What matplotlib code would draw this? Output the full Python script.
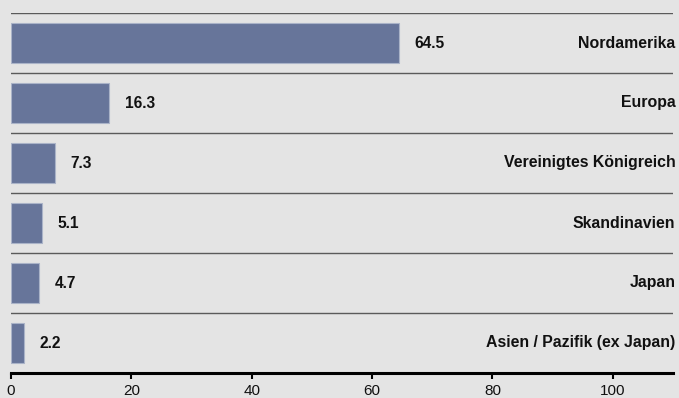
import matplotlib
matplotlib.use("Agg")
import matplotlib.pyplot as plt

categories = ["Nordamerika", "Europa", "Vereinigtes Königreich", "Skandinavien", "Japan", "Asien / Pazifik (ex Japan)"]
values = [64.5, 16.3, 7.3, 5.1, 4.7, 2.2]
xticks = [0, 20, 40, 60, 80, 100]

plt.rcParams['font.family'] = ['Liberation Sans', 'DejaVu Sans']
bg = '#e4e4e4'
fig = plt.figure(figsize=(6.79, 3.98), dpi=100, facecolor=bg)
ax = fig.add_axes([11/679, 25/398, 662/679, 360/398], facecolor=bg)

y = list(range(len(categories)))
ax.barh(y, values, height=0.67, color='#67759a', edgecolor='#aab3c8', linewidth=0.8, zorder=2)
ax.set_ylim(len(categories) - 0.5, -0.5)
ax.set_xlim(0, 110)

for i in range(len(categories)):
    ax.axhline(i - 0.5, color='#5a5a5a', linewidth=1.0, zorder=1)

for i, (c, v) in enumerate(zip(categories, values)):
    ax.text(v + 2.6, i, f"{v}", ha='left', va='center', fontsize=11.2, fontweight='bold', color='#111111')
    ax.text(110.4, i, c, ha='right', va='center', fontsize=11.4, fontweight='bold', color='#111111')

for s in ['top', 'right', 'left']:
    ax.spines[s].set_visible(False)
ax.spines['bottom'].set_linewidth(2.2)
ax.spines['bottom'].set_color('black')
ax.set_yticks([])
ax.set_xticks(xticks)
ax.set_xticklabels([str(t) for t in xticks])
ax.tick_params(axis='x', length=4, width=1.5, color='black', labelsize=11, pad=4, labelcolor='#111111')

fig.savefig("out.png", dpi=100, facecolor=bg)
